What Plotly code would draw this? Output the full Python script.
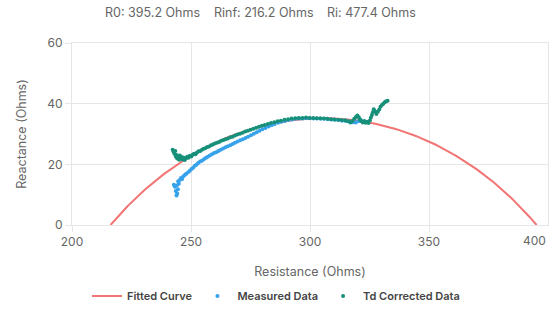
import numpy as np
import plotly.graph_objects as go

# Cole model parameters (Ohms)
R0 = 395.2
RINF = 216.2
RI = 477.4
PEAK_REACTANCE = 35.2  # apex of the fitted arc

# Measured impedance data (resistance, reactance)
measured_r = [243.9, 244.2, 243.6, 244.5, 243.2, 242.8, 244.0, 244.9, 245.3, 244.6,
              245.8, 246.3, 246.8, 247.5, 248.0, 248.8, 249.5, 250.2, 250.9, 251.6,
              252.3, 253.0, 253.8, 254.6, 255.4, 256.2, 257.0, 257.9, 258.8, 259.7,
              260.6, 261.5, 262.5, 263.5, 264.5, 265.5, 266.5, 267.5, 268.5, 269.6,
              270.7, 271.8, 272.9, 274.0, 275.2, 276.4, 277.6, 278.8, 280.0, 281.3,
              282.6, 283.9, 285.2, 286.6, 288.0, 289.5, 291.0, 292.5, 294.0, 295.5,
              297.0, 298.5, 300.0, 301.5, 303.0, 304.5, 306.0, 307.5, 309.0, 310.5,
              312.0, 313.5, 315.0, 316.5, 318.0, 319.2, 320.3, 321.3]
measured_x = [9.7, 10.4, 11.2, 11.8, 12.6, 13.3, 13.0, 13.6, 14.8, 14.4,
              15.5, 15.2, 16.1, 16.6, 16.9, 17.4, 17.9, 18.5, 18.9, 19.5,
              19.9, 20.4, 20.9, 21.2, 21.7, 22.1, 22.5, 22.9, 23.3, 23.7,
              24.0, 24.4, 24.8, 25.2, 25.6, 26.0, 26.3, 26.7, 27.1, 27.5,
              27.9, 28.3, 28.7, 29.1, 29.6, 30.1, 30.6, 31.1, 31.6, 32.0,
              32.5, 32.9, 33.3, 33.7, 34.0, 34.3, 34.6, 34.8, 35.0, 35.1,
              35.1, 35.2, 35.2, 35.1, 35.1, 35.0, 35.0, 34.9, 34.8, 34.7,
              34.6, 34.4, 34.3, 34.1, 33.9, 33.8, 34.2, 34.6]

# Td corrected data (resistance, reactance)
corrected_r = [242.3, 242.6, 243.0, 243.4, 243.6, 244.0, 244.2, 244.6, 245.0, 245.3,
               245.7, 246.1, 246.5, 247.0, 247.4, 247.9, 248.4, 248.9, 249.5, 250.1,
               250.7, 251.3, 251.9, 252.5, 253.2, 253.9, 254.6, 255.3, 256.0, 256.8,
               257.6, 258.4, 259.2, 260.0, 260.9, 261.8, 262.7, 263.6, 264.5, 265.5,
               266.5, 267.5, 268.5, 269.5, 270.6, 271.7, 272.8, 273.9, 275.0, 276.2,
               277.4, 278.6, 279.8, 281.0, 282.3, 283.6, 285.0, 286.4, 287.8, 289.3,
               290.8, 292.3, 293.8, 295.3, 296.8, 298.3, 299.8, 301.3, 302.8, 304.3,
               305.8, 307.3, 308.8, 310.3, 311.8, 313.3, 314.8, 316.0, 317.0, 317.8,
               318.6, 319.3, 319.9, 320.5, 321.0, 321.6, 322.2, 322.8, 323.4, 324.0,
               324.6, 325.2, 325.6, 326.0, 326.4, 326.8, 327.4, 327.9, 328.5, 329.1,
               329.6, 330.2, 330.8, 331.4, 332.0, 332.6]
corrected_x = [24.8, 24.2, 23.5, 24.4, 22.6, 23.1, 21.9, 22.5, 21.5, 22.9,
               21.9, 22.4, 21.6, 22.2, 21.4, 22.0, 22.5, 22.2, 22.8, 22.6,
               23.2, 23.5, 23.3, 23.9, 24.3, 24.4, 24.8, 25.1, 25.3, 25.7,
               25.9, 26.3, 26.5, 26.9, 27.1, 27.4, 27.8, 28.0, 28.3, 28.5,
               28.9, 29.1, 29.5, 29.8, 30.1, 30.4, 30.8, 31.1, 31.4, 31.7,
               32.1, 32.4, 32.7, 33.0, 33.3, 33.6, 33.9, 34.2, 34.4, 34.7,
               34.9, 35.1, 35.2, 35.3, 35.3, 35.4, 35.3, 35.3, 35.2, 35.2,
               35.1, 35.0, 34.9, 34.8, 34.7, 34.6, 34.5, 34.2, 33.8, 34.3,
               35.0, 35.6, 36.1, 35.5, 34.8, 34.2, 33.8, 34.3, 33.7, 34.0,
               33.6, 34.5, 35.4, 36.3, 37.2, 38.2, 37.4, 36.6, 37.3, 38.1,
               39.0, 39.6, 40.0, 40.5, 40.8, 41.0]

# Depressed semicircle through (RINF, 0) and (R0, 0) with the given apex
half = (R0 - RINF) / 2
xc = (R0 + RINF) / 2
depth = (half ** 2 - PEAK_REACTANCE ** 2) / (2 * PEAK_REACTANCE)
radius = PEAK_REACTANCE + depth
theta = np.linspace(np.pi - np.arctan2(depth, half), np.arctan2(depth, half), 200)
fit_r = xc + radius * np.cos(theta)
fit_x = -depth + radius * np.sin(theta)

FONT = "Inter"
GRID = "#e6e6e6"
TXT = "#666666"

fig = go.Figure()
fig.add_trace(go.Scatter(x=fit_r, y=fit_x, mode="lines", name="Fitted Curve",
                         line=dict(color="#f27474", width=2)))
fig.add_trace(go.Scatter(x=measured_r, y=measured_x, mode="markers", name="Measured Data",
                         marker=dict(color="#36a2eb", size=4)))
fig.add_trace(go.Scatter(x=corrected_r, y=corrected_x, mode="markers", name="Td Corrected Data",
                         marker=dict(color="#17907a", size=4)))

L, R, T, B = 72, 8, 43, 97
W, H = 556, 322
pw, ph = W - L - R, H - T - B


def px_x(p):
    return (p - L) / pw


def px_y(p):
    return 1 + (T - p) / ph


title_parts = [("R0: 395.2 Ohms", 103), ("Rinf: 216.2 Ohms", 212), ("Ri: 477.4 Ohms", 325)]
annotations = [dict(text=t, x=px_x(x0), y=px_y(13), xref="paper", yref="paper",
                    xanchor="left", yanchor="middle", showarrow=False,
                    font=dict(family=FONT, size=12.5, color=TXT))
               for t, x0 in title_parts]

# last x tick label is pulled inside the canvas
x_ticks = [200, 250, 300, 350, 400]
annotations.append(dict(text=str(x_ticks[-1]), x=x_ticks[-1], y=px_y(241), xref="x", yref="paper",
                        xanchor="right", yanchor="middle", showarrow=False,
                        font=dict(family=FONT, size=12, color=TXT)))

fig.update_layout(
    width=W, height=H,
    margin=dict(l=L, r=R, t=T, b=B),
    paper_bgcolor="white", plot_bgcolor="white",
    font=dict(family=FONT, size=12, color=TXT),
    annotations=annotations,
    showlegend=True,
    legend=dict(orientation="h", x=px_x(276), xanchor="center", y=px_y(296), yanchor="middle",
                font=dict(family=FONT, size=11, color="#444444", weight=600),
                itemwidth=30, bgcolor="rgba(0,0,0,0)"),
    xaxis=dict(range=[200, 400], tickvals=x_ticks[:-1], showgrid=True, gridcolor=GRID,
               zeroline=False, showline=True, linecolor=GRID, mirror=True,
               ticks="outside", ticklen=6, tickcolor=GRID,
               tickfont=dict(family=FONT, size=12, color=TXT),
               title=dict(text="Resistance (Ohms)", standoff=18,
                          font=dict(family=FONT, size=12.5, color=TXT))),
    yaxis=dict(range=[0, 60], dtick=20, showgrid=True, gridcolor=GRID, zeroline=False,
               showline=True, linecolor=GRID, mirror=True,
               ticks="outside", ticklen=6, tickcolor=GRID,
               tickfont=dict(family=FONT, size=12, color=TXT),
               title=dict(text="Reactance (Ohms)", standoff=17,
                          font=dict(family=FONT, size=12.5, color=TXT))),
)

fig.write_html("out.html")
